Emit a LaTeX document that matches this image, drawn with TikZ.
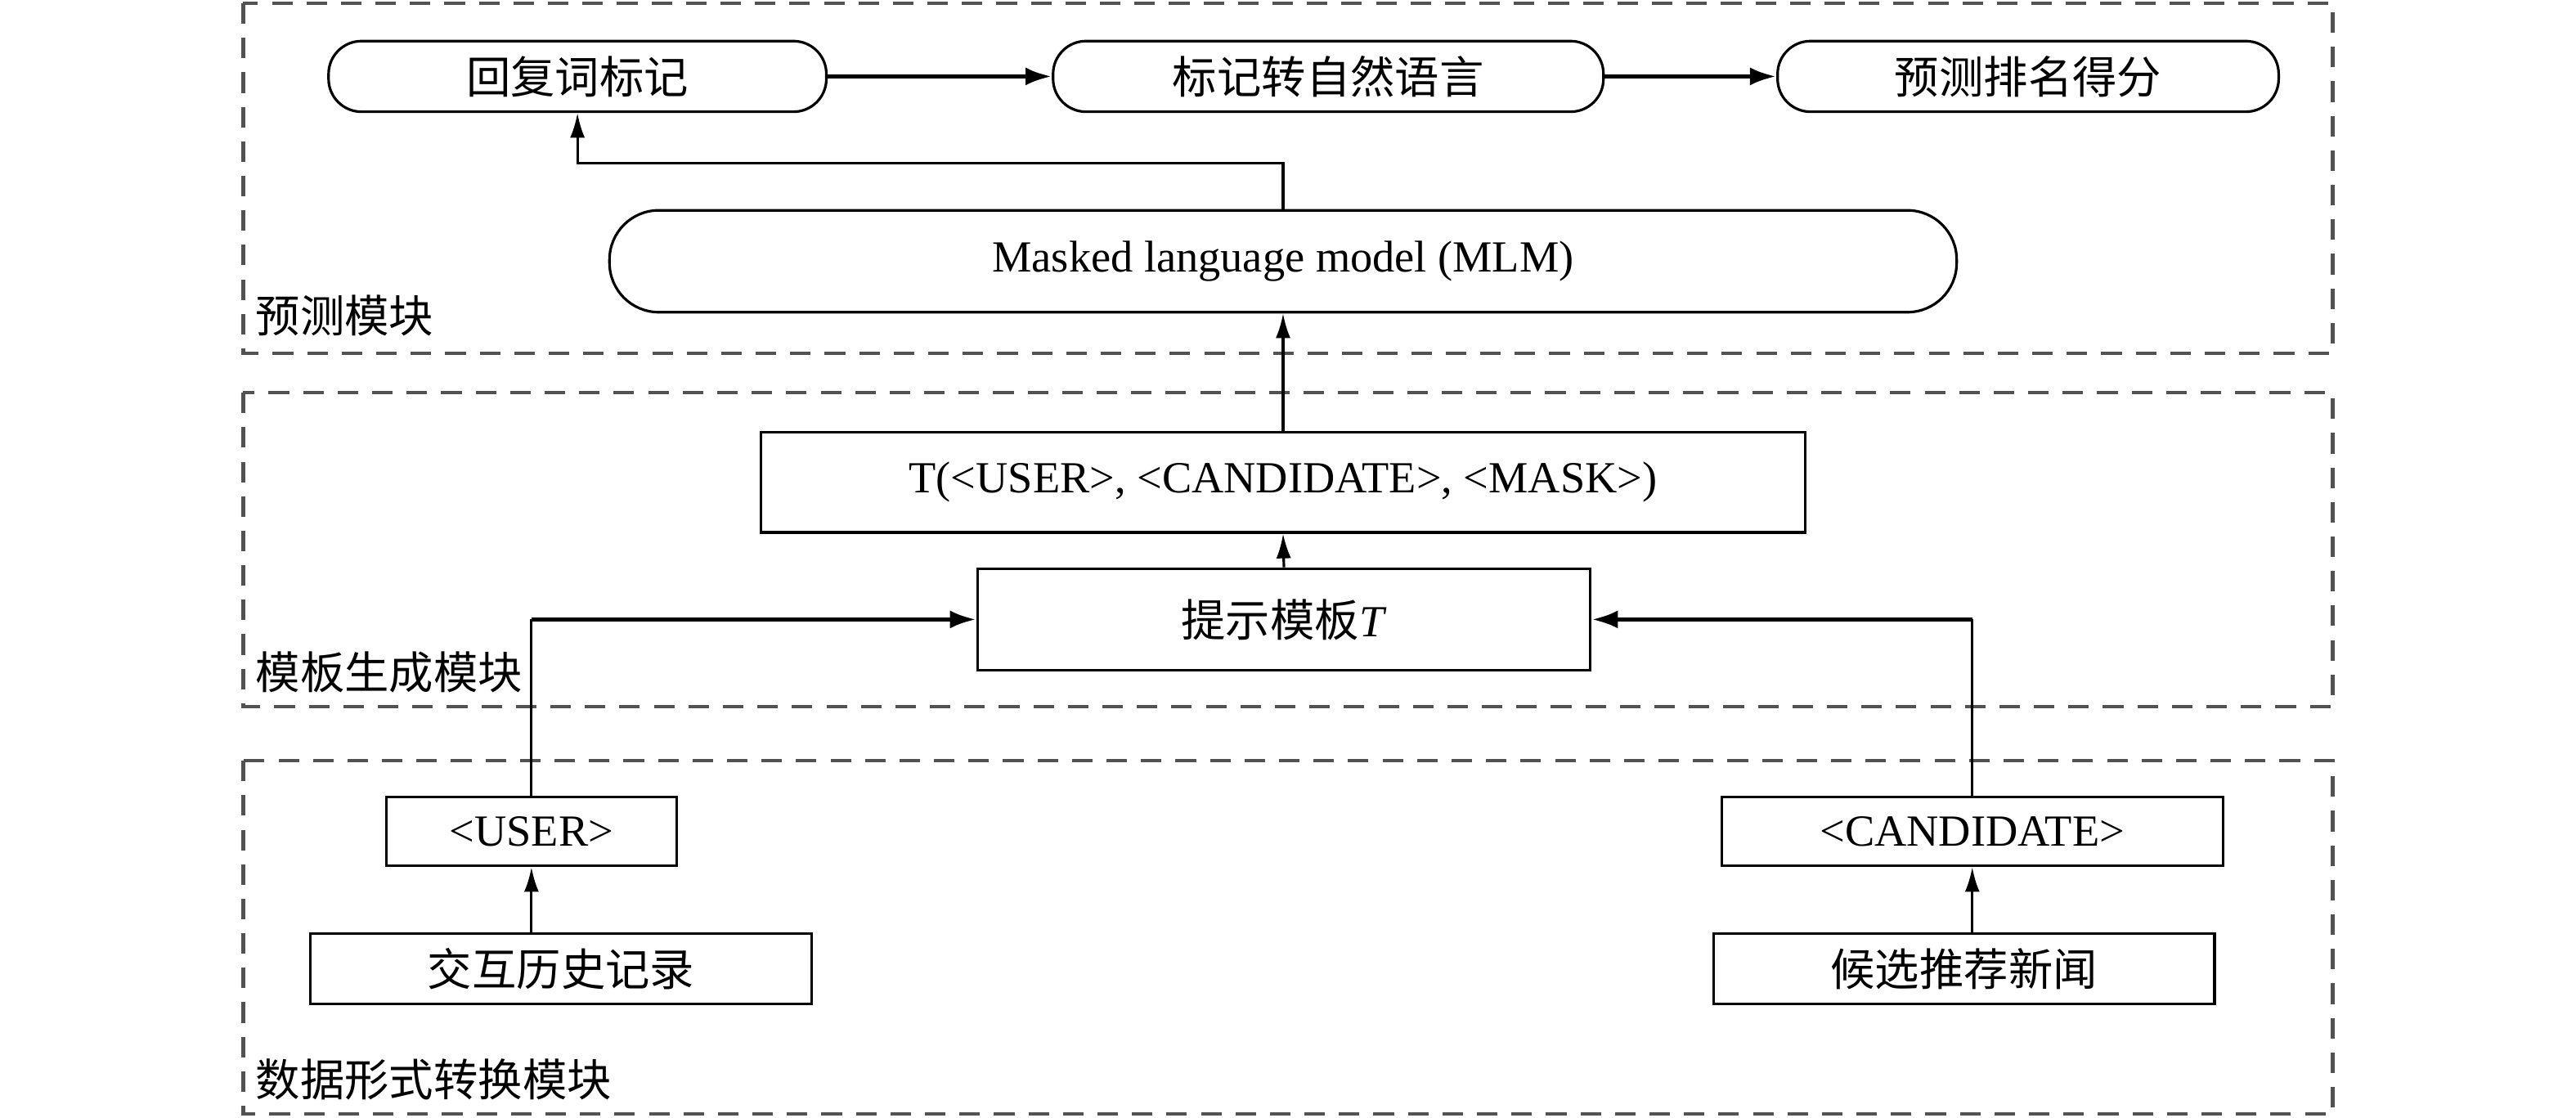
\documentclass[tikz,border=0pt]{standalone}
\usepackage{fontspec}
\setmainfont{Liberation Serif}
\newfontfamily\cjk{Noto Sans CJK SC}
\newcommand{\zh}[1]{{\cjk #1}}
\usetikzlibrary{arrows.meta,positioning}

\begin{document}
\begin{tikzpicture}[
  every node/.style={font=\fontsize{7.7}{9}\selectfont},
  roundbox/.style={draw,rounded corners=2mm,line width=0.45pt,minimum height=0.43cm,inner sep=0pt},
  sqbox/.style={draw,line width=0.45pt,minimum height=0.42cm,inner sep=0pt},
  modframe/.style={draw=black!68,line width=0.65pt,dash pattern=on 1.25mm off 0.85mm},
  modlabel/.style={anchor=west,inner sep=0pt},
  thinarr/.style={-{Latex[length=1.5mm,width=0.9mm]},line width=0.45pt},
  thickarr/.style={-{Latex[length=1.6mm,width=1.1mm]},line width=0.75pt},
]
  \useasboundingbox (0,0) rectangle (15.68,-6.80);

  % module frames
  \draw[modframe] (1.48,-0.02) rectangle (14.20,-2.15);
  \draw[modframe] (1.48,-2.39) rectangle (14.20,-4.30);
  \draw[modframe] (1.48,-4.63) rectangle (14.20,-6.78);
  \node[modlabel] (lpred) at (1.55,-1.92) {\zh{预测模块}};
  \node[modlabel] (ltmpl) at (1.55,-4.09) {\zh{模板生成模块}};
  \node[modlabel] (ldata) at (1.55,-6.57) {\zh{数据形式转换模块}};

  % prediction module
  \node[roundbox,minimum width=3.03cm] (reply) at (3.515,-0.465) {\zh{回复词标记}};
  \node[roundbox,minimum width=3.35cm] (natlang) at (8.085,-0.465) {\zh{标记转自然语言}};
  \node[roundbox,minimum width=3.05cm] (rank) at (12.345,-0.465) {\zh{预测排名得分}};
  \node[roundbox,rounded corners=3mm,minimum width=8.20cm,minimum height=0.62cm]
    (mlm) at (7.81,-1.59) {Masked language model (MLM)};

  \draw[thickarr] (reply.east) -- (natlang.west);
  \draw[thickarr] (natlang.east) -- (rank.west);
  \draw[thinarr] (mlm.north) -- ++(0,0.28) -| (reply.south);

  % template module
  \node[sqbox,minimum width=6.36cm,minimum height=0.61cm] (tfill) at (7.81,-2.935)
    {T(<USER>, <CANDIDATE>, <MASK>)};
  \node[sqbox,minimum width=3.73cm,minimum height=0.62cm] (prompt) at (7.815,-3.77)
    {\zh{提示模板}\textit{T}};

  \draw[thinarr] (tfill.north) -- (mlm.south);
  \draw[thinarr] (prompt.north) -- (tfill.south);

  % data conversion module
  \node[sqbox,minimum width=1.77cm] (user) at (3.235,-5.06) {<USER>};
  \node[sqbox,minimum width=3.05cm,minimum height=0.43cm] (hist) at (3.415,-5.895) {\zh{交互历史记录}};
  \node[sqbox,minimum width=3.05cm] (cand) at (12.005,-5.06) {<CANDIDATE>};
  \node[sqbox,minimum width=3.05cm,minimum height=0.43cm] (news) at (11.955,-5.895) {\zh{候选推荐新闻}};

  \draw[thinarr] (user.south |- hist.north) -- (user.south);
  \draw[thinarr] (cand.south |- news.north) -- (cand.south);
  \draw[line width=0.45pt] (user.north) -- (user.north |- prompt.west);
  \draw[thickarr] (user.north |- prompt.west) -- (prompt.west);
  \draw[line width=0.45pt] (cand.north) -- (cand.north |- prompt.east);
  \draw[thickarr] (cand.north |- prompt.east) -- (prompt.east);
\end{tikzpicture}
\end{document}
